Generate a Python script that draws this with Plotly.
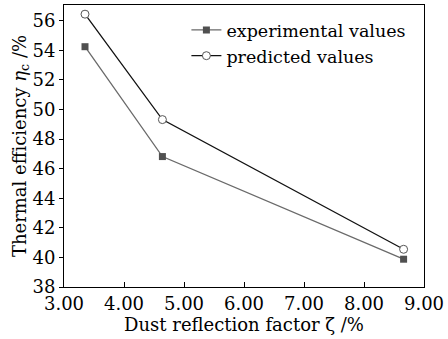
import plotly.graph_objects as go

x_vals = [3.35, 4.64, 8.66]
experimental = [54.25, 46.82, 39.88]
predicted = [56.45, 49.32, 40.55]
x_ticks = [3, 4, 5, 6, 7, 8, 9]
x_tick_labels = ["3.00", "4.00", "5.00", "6.00", "7.00", "8.00", "9.00"]
y_ticks = [38, 40, 42, 44, 46, 48, 50, 52, 54, 56]

FONT = "DejaVu Serif"

fig = go.Figure()
fig.add_trace(go.Scatter(
    x=x_vals, y=experimental, mode="lines+markers", name="experimental values",
    line=dict(color="#6a6a6a", width=1.3),
    marker=dict(symbol="square", size=7, color="#505050", line=dict(color="#505050", width=0)),
))
fig.add_trace(go.Scatter(
    x=x_vals, y=predicted, mode="lines+markers", name="predicted values",
    line=dict(color="#111111", width=1.3),
    marker=dict(symbol="circle", size=8, color="white", line=dict(color="#555555", width=1)),
))

fig.update_layout(
    width=448, height=339,
    margin=dict(l=64, r=22, t=4, b=52),
    paper_bgcolor="white", plot_bgcolor="white",
    font=dict(family=FONT, size=18, color="black"),
    showlegend=True,
    legend=dict(x=0.34, y=0.975, xanchor="left", yanchor="top",
                bgcolor="rgba(0,0,0,0)", font=dict(family=FONT, size=17.5),
                tracegroupgap=0, itemwidth=30),
    xaxis=dict(range=[3, 9], tickvals=x_ticks, ticktext=x_tick_labels,
               ticks="inside", ticklen=5, tickcolor="black",
               tickfont=dict(family=FONT, size=18),
               showline=True, linecolor="black", linewidth=1, mirror=True,
               showgrid=False, zeroline=False,
               title=dict(text="Dust reflection factor ζ /%", standoff=1,
                          font=dict(family=FONT, size=18))),
    yaxis=dict(range=[38, 57.07], tickvals=y_ticks,
               ticks="outside", ticklen=4, tickcolor="black",
               tickfont=dict(family=FONT, size=18),
               showline=True, linecolor="black", linewidth=1, mirror=True,
               showgrid=False, zeroline=False,
               title=dict(text="Thermal efficiency <i>η</i><sub>c</sub> /%", standoff=0,
                          font=dict(family=FONT, size=18))),
)

fig.write_html("out.html")
